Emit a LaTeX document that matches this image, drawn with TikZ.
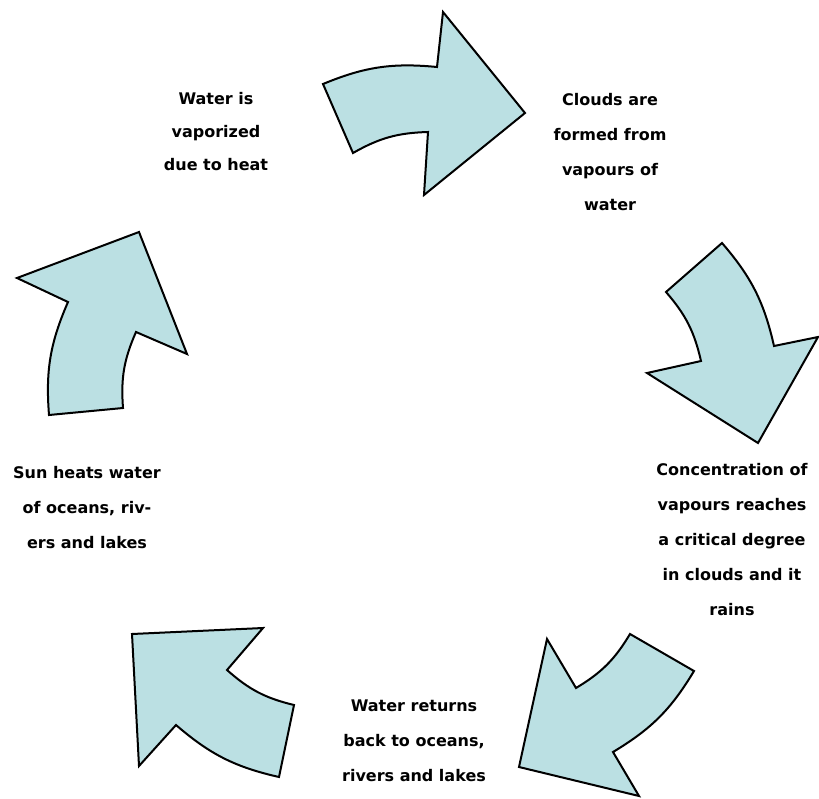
\documentclass[tikz,border=0pt]{standalone}
\usepackage{fontspec}
\setmainfont{DejaVu Sans}
\definecolor{arrowblue}{RGB}{187,224,227}
\begin{document}
\begin{tikzpicture}[x=1pt, y=-1pt, thick,
    step label/.style = {align=center, font=\bfseries\fontsize{16}{35}\selectfont},
    cycle arrow/.style = {draw, line width=2pt, line join=miter, fill=arrowblue}]
    \useasboundingbox (0,0) rectangle (819,798);

    % Curved arrows (clockwise)
    \draw[cycle arrow] (323,84) to[bend left=14] (437,67) -- (443,12) -- (525,113)
        -- (424,195) -- (428,132) to[bend right=14] (353,153) -- cycle;
    \draw[cycle arrow] (722,243) to[bend left=14] (774,346) -- (818,337) -- (758,443)
        -- (647,373) -- (701,361) to[bend right=14] (666,292) -- cycle;
    \draw[cycle arrow] (694,671) to[bend left=14] (613,752) -- (639,796) -- (519,767)
        -- (547,639) -- (576,688) to[bend right=14] (630,634) -- cycle;
    \draw[cycle arrow] (279,777) to[bend left=14] (176,725) -- (139,766) -- (132,634)
        -- (263,628) -- (227,670) to[bend right=14] (294,705) -- cycle;
    \draw[cycle arrow] (49,415) to[bend left=14] (68,302) -- (17,278) -- (139,232)
        -- (187,354) -- (136,332) to[bend right=14] (123,408) -- cycle;

    % Labels
    \node[step label, font=\bfseries\fontsize{16}{33}\selectfont] (vapor) at (216,132)
        {Water is\\vaporized\\due to heat};
    \node[step label] (clouds) at (610,152) {Clouds are\\formed from\\vapours of\\water};
    \node[step label] (rain) at (732,540)
        {Concentration of\\vapours reaches\\a critical degree\\in clouds and it\\rains};
    \node[step label] (return) at (414,741) {Water returns\\back to oceans,\\rivers and lakes};
    \node[step label] (heat) at (87,508) {Sun heats water\\of oceans, riv-\\ers and lakes};
\end{tikzpicture}
\end{document}
